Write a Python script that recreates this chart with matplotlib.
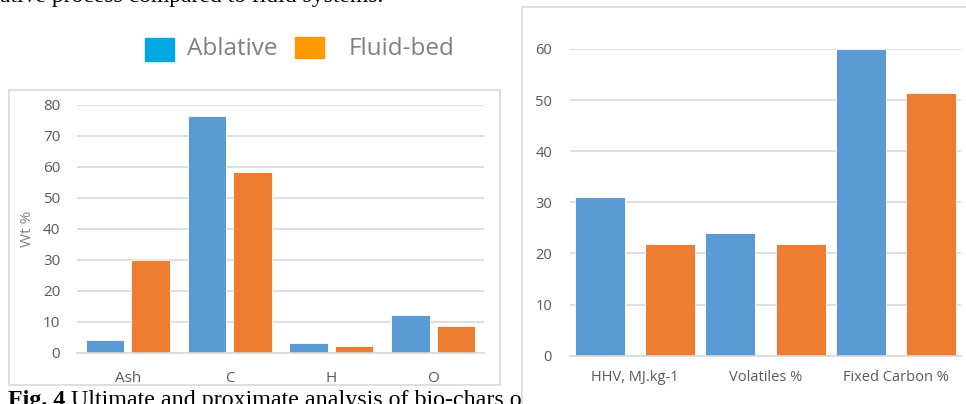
import matplotlib

matplotlib.use("Agg")
import matplotlib.pyplot as plt
from matplotlib.patches import Rectangle

# ultimate analysis (left)
elements = ["Ash", "C", "H", "O"]
ult_ablative = [4.1, 76.4, 3.0, 12.2]
ult_fluid = [29.8, 58.4, 2.3, 8.7]

# proximate analysis (right)
prox_labels = ["HHV, MJ.kg-1", "Volatiles %", "Fixed Carbon %"]
prox_ablative = [31.1, 24.0, 60.0]
prox_fluid = [21.8, 21.9, 51.3]

BLUE = "#5B9BD5"
ORANGE = "#ED7D31"
GRID = "#D9D9D9"
TXT = "#595959"
W, H = 966, 404

plt.rcParams["font.family"] = ["Open Sans", "DejaVu Sans"]

fig = plt.figure(figsize=(W / 100, H / 100), dpi=100)


def fx(px):
    return px / W


def fy(py):
    return 1 - py / H


def style(ax, ymax, step):
    ax.set_ylim(0, ymax)
    ax.set_yticks(range(0, ymax + 1, step))
    ax.yaxis.grid(True, color=GRID, lw=1.2)
    ax.set_axisbelow(True)
    for s in ("left", "right", "top"):
        ax.spines[s].set_visible(False)
    ax.spines["bottom"].set_color(GRID)
    ax.spines["bottom"].set_linewidth(1.2)
    ax.tick_params(length=0, colors=TXT)
    ax.patch.set_alpha(0)


# document text around the figure
fig.text(0, fy(2), "ative process compared to fluid systems.", family="Liberation Serif",
         fontsize=17, va="baseline", ha="left")
fig.text(fx(8), fy(406), "Fig. 4", family="Liberation Serif", weight="bold",
         fontsize=17.3, va="baseline", ha="left")
fig.text(fx(71), fy(406), "Ultimate and proximate analysis of bio-chars of",
         family="Liberation Serif", fontsize=17.3, va="baseline", ha="left")

# left panel box
fig.patches.append(Rectangle((fx(9), fy(385)), fx(491), 295 / H, transform=fig.transFigure,
                             fill=False, ec=GRID, lw=1.2))

# legend (drawn above the left panel)
fig.patches.append(Rectangle((fx(145), fy(61)), fx(29), 23 / H, transform=fig.transFigure,
                             color="#00A8E2", zorder=3))
fig.text(fx(187), fy(49), "Ablative", fontsize=17.5, color="#808080", va="center")
fig.patches.append(Rectangle((fx(295), fy(58)), fx(29), 21 / H, transform=fig.transFigure,
                             color="#FF9900", zorder=3))
fig.text(fx(349), fy(49), "Fluid-bed", fontsize=17.5, color="#808080", va="center")

ax1 = fig.add_axes([fx(77), fy(352.7), fx(407), 247.7 / H])
x = range(len(elements))
ax1.bar([i - 0.224 for i in x], ult_ablative, width=0.38, color=BLUE, ec="white", lw=0.6)
ax1.bar([i + 0.224 for i in x], ult_fluid, width=0.38, color=ORANGE, ec="white", lw=0.6)
ax1.set_xlim(-0.5, 3.5)
style(ax1, 80, 10)
ax1.set_xticks(list(x), elements)
ax1.tick_params(axis="x", pad=13, labelsize=11)
ax1.tick_params(axis="y", pad=12, labelsize=11)
ax1.set_ylabel("Wt %", color="#808080", fontsize=11, labelpad=6)

# right panel box, white so it hides the end of the caption
fig.patches.append(Rectangle((fx(522), fy(420)), fx(460), 413 / H, transform=fig.transFigure,
                             fc="white", ec=GRID, lw=1.2, zorder=5))

ax2 = fig.add_axes([fx(570), fy(355.7), fx(391), 306.7 / H], zorder=6)
x2 = range(len(prox_labels))
ax2.bar([i - 0.27 for i in x2], prox_ablative, width=0.385, color=BLUE, ec="white", lw=0.6)
ax2.bar([i + 0.27 for i in x2], prox_fluid, width=0.385, color=ORANGE, ec="white", lw=0.6)
ax2.set_xlim(-0.5, 2.5)
style(ax2, 60, 10)
ax2.set_xticks(list(x2), prox_labels)
ax2.tick_params(axis="x", pad=10, labelsize=10.5)
ax2.tick_params(axis="y", pad=13, labelsize=10.5)

fig.savefig("out.png", dpi=100)
